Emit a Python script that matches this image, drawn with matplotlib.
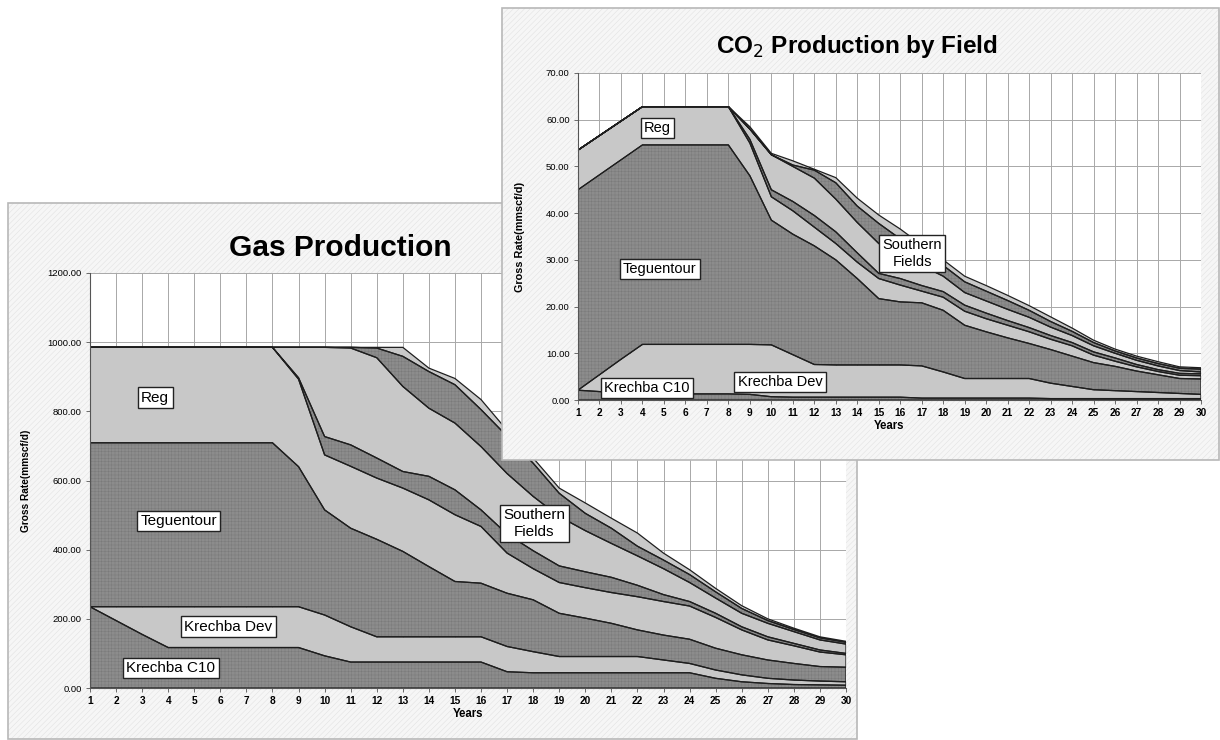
import matplotlib
matplotlib.use('Agg')
import matplotlib.pyplot as plt
from matplotlib.patches import Rectangle

plt.rcParams['font.family'] = ['Liberation Sans', 'DejaVu Sans']
plt.rcParams['hatch.linewidth'] = 0.35

# --- data (stacked layers, bottom to top) ---
years = list(range(1, 31))

gas_c10 = [235, 195, 155, 117, 117, 117, 117, 117, 117, 93, 75, 75, 75, 75, 75, 75,
           47, 44, 44, 44, 44, 44, 44, 44, 28, 18, 13, 10, 9, 8]
gas_dev = [0, 40, 80, 118, 118, 118, 118, 118, 118, 118, 102, 73, 73, 73, 73, 73,
           73, 61, 47, 47, 47, 47, 37, 27, 24, 20, 15, 13, 11, 10]
gas_teg = [474, 474, 474, 474, 474, 474, 474, 474, 405, 304, 285, 282, 247, 203, 160, 155,
           154, 150, 125, 111, 96, 77, 72, 70, 63, 58, 53, 48, 42, 42]
gas_reg = [276, 276, 276, 276, 276, 276, 276, 276, 253, 159, 179, 177, 183, 193, 193, 164,
           116, 90, 89, 88, 89, 96, 97, 96, 89, 72, 58, 51, 42, 36]
gas_sf1 = [0, 0, 0, 0, 0, 0, 0, 0, 4, 53, 62, 58, 48, 68, 72, 48,
           55, 52, 48, 46, 44, 33, 20, 13, 12, 9, 9, 7, 6, 4]
gas_sf2 = [0, 0, 0, 0, 0, 0, 0, 0, 88, 258, 280, 290, 246, 197, 193, 183,
           175, 157, 143, 119, 98, 85, 75, 55, 44, 39, 39, 34, 29, 27]
gas_sf3 = [0, 0, 0, 0, 0, 0, 0, 0, 0, 0, 2, 28, 87, 106, 111, 107,
           108, 96, 67, 50, 44, 28, 25, 23, 18, 14, 8, 6, 6, 5]
gas_sf4 = [0, 0, 0, 0, 0, 0, 0, 0, 0, 0, 0, 2, 26, 10, 18, 29,
           17, 15, 15, 30, 29, 38, 20, 14, 10, 8, 5, 4, 3, 3]

co2_c10 = [2.1, 1.8, 1.5, 1.3, 1.3, 1.3, 1.3, 1.3, 1.2, 0.7, 0.6, 0.6, 0.6, 0.6, 0.6, 0.6,
           0.4, 0.4, 0.4, 0.4, 0.4, 0.4, 0.3, 0.3, 0.3, 0.3, 0.3, 0.3, 0.3, 0.3]
co2_dev = [0, 3.6, 7.2, 10.6, 10.6, 10.6, 10.6, 10.6, 10.7, 11.1, 9.1, 7.0, 6.9, 6.9, 6.9, 6.9,
           6.9, 5.6, 4.2, 4.2, 4.2, 4.2, 3.3, 2.6, 1.9, 1.7, 1.5, 1.3, 1.1, 0.9]
co2_teg = [42.9, 42.8, 42.7, 42.7, 42.7, 42.7, 42.7, 42.7, 36.1, 26.7, 25.8, 25.4, 22.5, 18.5, 14.2, 13.5,
           13.5, 13.2, 11.4, 10.0, 8.7, 7.5, 7.2, 6.5, 5.8, 5.2, 4.4, 3.8, 3.2, 3.3]
co2_reg = [8.5, 8.4, 8.3, 8.2, 8.2, 8.2, 8.2, 8.2, 7.0, 5.0, 5.0, 4.0, 3.5, 3.5, 4.3, 3.6,
           2.5, 2.8, 3.0, 2.8, 2.7, 2.5, 2.2, 2.2, 1.6, 1.1, 0.9, 0.7, 0.7, 0.7]
co2_sf1 = [0, 0, 0, 0, 0, 0, 0, 0, 0.8, 1.5, 2.0, 2.5, 2.5, 2.0, 1.1, 1.4,
           1.2, 1.2, 1.3, 1.2, 1.0, 0.9, 0.8, 0.7, 0.7, 0.7, 0.5, 0.4, 0.4, 0.4]
co2_sf2 = [0, 0, 0, 0, 0, 0, 0, 0, 2.2, 7.5, 7.5, 8.0, 7.0, 6.5, 6.4, 5.0,
           4.3, 3.3, 2.7, 2.6, 2.4, 2.2, 1.8, 1.5, 1.3, 1.0, 0.9, 0.8, 0.6, 0.4]
co2_sf3 = [0, 0, 0, 0, 0, 0, 0, 0, 0, 0, 0.3, 1.7, 3.5, 3.5, 4.3, 3.5,
           2.7, 2.3, 2.3, 2.1, 1.9, 1.5, 1.2, 0.9, 0.7, 0.5, 0.5, 0.5, 0.5, 0.6]
co2_sf4 = [0, 0, 0, 0, 0, 0, 0, 0, 0.5, 0.3, 0.9, 0.2, 1.1, 1.7, 1.8, 2.1,
           1.7, 1.2, 1.2, 1.2, 1.1, 1.0, 1.0, 0.7, 0.5, 0.4, 0.4, 0.4, 0.3, 0.3]

gas_yticks = [0, 200, 400, 600, 800, 1000, 1200]
co2_yticks = [0, 10, 20, 30, 40, 50, 60, 70]

DARK = '#8c8c8c'
LIGHT = '#c8c8c8'
LAYER_COLORS = [DARK, LIGHT] * 4

W, H = 1220, 740


def fx(px):
    return px / W


def fy(py):
    return 1 - py / H


def panel(fig, x0, y0, x1, y1, z):
    r = Rectangle((fx(x0), fy(y1)), fx(x1 - x0), (y1 - y0) / H, transform=fig.transFigure,
                  facecolor='#f6f6f6', edgecolor='#e0e0e0', hatch='//////', lw=0, zorder=z)
    fig.patches.append(r)
    b = Rectangle((fx(x0), fy(y1)), fx(x1 - x0), (y1 - y0) / H, transform=fig.transFigure,
                  facecolor='none', edgecolor='#b8b8b8', lw=1.2, zorder=z)
    fig.patches.append(b)


def stacked(ax, layers, ymax, yticks, fmt, ylab_size):
    ax.set_facecolor('white')
    fills = ax.stackplot(years, *layers, colors=LAYER_COLORS, edgecolor='#7a7a7a', linewidth=0)
    for i, f in enumerate(fills):
        if i % 2 == 0:
            f.set_hatch('+++++')
    # outlines of every layer
    ax.stackplot(years, *layers, colors=['none'] * len(layers), edgecolor='#1e1e1e', linewidth=0.9)
    ax.set_xlim(1, 30)
    ax.set_ylim(0, ymax)
    ax.set_xticks(years)
    ax.set_yticks(yticks)
    ax.set_yticklabels([fmt.format(v) for v in yticks], fontsize=6.8)
    ax.set_xticklabels([str(y) for y in years], fontsize=7.3, fontweight='bold')
    ax.grid(True, color='#a8a8a8', lw=0.7)
    ax.set_axisbelow(True)
    for s in ['top', 'right']:
        ax.spines[s].set_visible(False)
    for s in ['left', 'bottom']:
        ax.spines[s].set_color('#555555')
        ax.spines[s].set_linewidth(0.8)
    ax.tick_params(length=3, width=0.6, color='#555555', pad=3)
    ax.set_xlabel('Years', fontsize=8.3, fontweight='bold', labelpad=1)
    ax.set_ylabel('Gross Rate(mmscf/d)', fontsize=ylab_size, fontweight='bold')


def tag(ax, x, y, s, size):
    ax.text(x, y, s, ha='center', va='center', fontsize=size, zorder=5, linespacing=1.25,
            bbox=dict(boxstyle='square,pad=0.22', fc='white', ec='#222222', lw=1.0))


fig = plt.figure(figsize=(12.2, 7.4), dpi=100)
fig.patch.set_facecolor('white')

# --- Gas Production panel ---
panel(fig, 8, 203, 857, 739, 0)
ax1 = fig.add_axes([fx(90), fy(688), fx(846 - 90), (688 - 273) / H], zorder=1)
stacked(ax1, [gas_c10, gas_dev, gas_teg, gas_reg, gas_sf1, gas_sf2, gas_sf3, gas_sf4],
        1200, gas_yticks, '{:.2f}', 7.3)
ax1.yaxis.set_label_coords(-0.078, 0.5)
fig.text(fx(340), fy(248), 'Gas Production', ha='center', va='center',
         fontsize=21.5, fontweight='bold', zorder=1)
tag(ax1, 3.5, 839, 'Reg', 11)
tag(ax1, 4.4, 483, 'Teguentour', 11)
tag(ax1, 6.3, 177, 'Krechba Dev', 11)
tag(ax1, 4.1, 58, 'Krechba C10', 11)
tag(ax1, 18.05, 475, 'Southern\nFields', 11)

# --- CO2 Production panel ---
panel(fig, 502, 8, 1219, 460, 2)
ax2 = fig.add_axes([fx(578), fy(400), fx(1201 - 578), (400 - 73) / H], zorder=3)
stacked(ax2, [co2_c10, co2_dev, co2_teg, co2_reg, co2_sf1, co2_sf2, co2_sf3, co2_sf4],
        70, co2_yticks, '{:.2f}', 7.8)
ax2.yaxis.set_label_coords(-0.085, 0.5)
fig.text(fx(857), fy(47), 'CO$_2$ Production by Field', ha='center', va='center',
         fontsize=17.5, fontweight='bold', zorder=3)
tag(ax2, 4.7, 58.2, 'Reg', 10.5)
tag(ax2, 4.8, 28.0, 'Teguentour', 10.5)
tag(ax2, 4.2, 2.6, 'Krechba C10', 10.5)
tag(ax2, 10.4, 3.9, 'Krechba Dev', 10.5)
tag(ax2, 16.55, 31.3, 'Southern\nFields', 10.5)

fig.savefig('out.png', dpi=100)
